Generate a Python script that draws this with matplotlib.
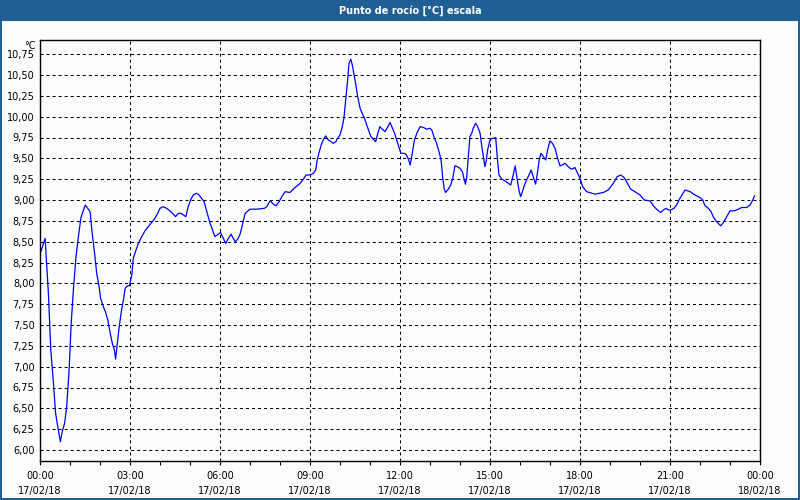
import matplotlib
matplotlib.use('Agg')
import matplotlib.pyplot as plt
from matplotlib.patches import Rectangle
from matplotlib.ticker import MultipleLocator, FixedLocator

# hours since 17/02/18 00:00 and dew point (°C)
hours = [0.03, 0.17, 0.22, 0.28, 0.36, 0.44, 0.52, 0.60, 0.68, 0.74, 0.82, 0.89, 0.97,
         1.04, 1.12, 1.20, 1.28, 1.36, 1.43, 1.51, 1.59, 1.67, 1.74, 1.82, 1.89, 1.97,
         2.02, 2.11, 2.18, 2.26, 2.33, 2.41, 2.48, 2.52, 2.58, 2.64, 2.71, 2.78, 2.84,
         2.91, 2.98, 3.06, 3.11, 3.20, 3.28, 3.39, 3.50, 3.61, 3.72, 3.83, 3.92, 4.00,
         4.11, 4.22, 4.33, 4.42, 4.52, 4.61, 4.70, 4.78, 4.86, 4.94, 5.03, 5.11, 5.20,
         5.28, 5.47, 5.56, 5.67, 5.83, 5.94, 6.02, 6.11, 6.19, 6.28, 6.37, 6.44, 6.51,
         6.59, 6.67, 6.76, 6.84, 7.00, 7.22, 7.48, 7.56, 7.67, 7.78, 7.87, 7.97, 8.06,
         8.17, 8.33, 8.50, 8.67, 8.76, 8.87, 9.00, 9.11, 9.19, 9.24, 9.31, 9.39, 9.47,
         9.52, 9.61, 9.70, 9.78, 9.86, 9.92, 10.00, 10.07, 10.13, 10.20, 10.26, 10.30,
         10.36, 10.41, 10.47, 10.52, 10.59, 10.67, 10.74, 10.82, 10.89, 10.97, 11.03,
         11.11, 11.19, 11.26, 11.33, 11.41, 11.50, 11.58, 11.67, 11.74, 11.82, 11.89,
         11.97, 12.03, 12.13, 12.20, 12.28, 12.34, 12.41, 12.48, 12.56, 12.67, 12.78,
         12.89, 13.00, 13.06, 13.13, 13.22, 13.30, 13.37, 13.42, 13.47, 13.52, 13.61,
         13.69, 13.76, 13.83, 13.91, 14.00, 14.08, 14.13, 14.18, 14.22, 14.28, 14.33,
         14.39, 14.44, 14.52, 14.59, 14.67, 14.72, 14.78, 14.83, 14.87, 14.92, 15.00,
         15.08, 15.13, 15.19, 15.24, 15.30, 15.39, 15.50, 15.61, 15.69, 15.76, 15.84,
         15.91, 15.97, 16.02, 16.08, 16.14, 16.22, 16.30, 16.37, 16.44, 16.52, 16.58,
         16.64, 16.70, 16.78, 16.86, 16.92, 17.00, 17.08, 17.17, 17.24, 17.33, 17.41,
         17.50, 17.58, 17.67, 17.74, 17.83, 17.91, 18.00, 18.09, 18.22, 18.50, 18.78,
         18.94, 19.11, 19.24, 19.36, 19.47, 19.58, 19.69, 19.83, 20.00, 20.14, 20.33,
         20.47, 20.58, 20.69, 20.78, 20.87, 20.94, 21.02, 21.13, 21.22, 21.33, 21.50,
         21.67, 21.83, 22.00, 22.09, 22.17, 22.28, 22.37, 22.44, 22.53, 22.61, 22.69,
         22.78, 22.89, 23.00, 23.14, 23.28, 23.39, 23.56, 23.67, 23.76, 23.82]
dew = [8.38, 8.54, 8.24, 7.88, 7.20, 6.84, 6.44, 6.26, 6.10, 6.22, 6.32, 6.52, 6.96,
       7.52, 7.96, 8.32, 8.56, 8.78, 8.86, 8.94, 8.90, 8.86, 8.60, 8.36, 8.12, 7.96,
       7.82, 7.72, 7.66, 7.56, 7.42, 7.28, 7.20, 7.09, 7.28, 7.48, 7.66, 7.80, 7.94,
       7.97, 7.97, 8.10, 8.30, 8.40, 8.48, 8.56, 8.63, 8.68, 8.73, 8.78, 8.84, 8.90,
       8.92, 8.90, 8.87, 8.84, 8.80, 8.84, 8.84, 8.82, 8.80, 8.92, 9.01, 9.06, 9.08,
       9.07, 8.98, 8.86, 8.72, 8.56, 8.59, 8.61, 8.54, 8.48, 8.54, 8.59, 8.54, 8.50,
       8.53, 8.59, 8.72, 8.84, 8.89, 8.89, 8.90, 8.92, 8.99, 8.95, 8.93, 8.98, 9.04,
       9.10, 9.09, 9.15, 9.20, 9.24, 9.30, 9.30, 9.32, 9.36, 9.48, 9.58, 9.68, 9.74,
       9.77, 9.72, 9.70, 9.68, 9.70, 9.74, 9.78, 9.87, 9.98, 10.24, 10.46, 10.64,
       10.69, 10.62, 10.50, 10.40, 10.24, 10.10, 10.04, 9.98, 9.90, 9.82, 9.76,
       9.73, 9.70, 9.80, 9.88, 9.85, 9.82, 9.87, 9.93, 9.87, 9.80, 9.72,
       9.63, 9.56, 9.56, 9.55, 9.49, 9.42, 9.56, 9.72, 9.80, 9.88, 9.87,
       9.85, 9.86, 9.84, 9.76, 9.68, 9.58, 9.48, 9.28, 9.14, 9.09, 9.13,
       9.18, 9.26, 9.41, 9.40, 9.38, 9.34, 9.26, 9.19, 9.26, 9.54, 9.76,
       9.80, 9.86, 9.92, 9.88, 9.80, 9.66, 9.52, 9.40, 9.46, 9.60, 9.72,
       9.74, 9.74, 9.75, 9.52, 9.30, 9.25, 9.23, 9.20, 9.18, 9.28, 9.41,
       9.24, 9.11, 9.04, 9.10, 9.17, 9.24, 9.30, 9.36, 9.28, 9.19, 9.32,
       9.48, 9.56, 9.52, 9.48, 9.60, 9.71, 9.68, 9.62, 9.52, 9.41, 9.42,
       9.44, 9.41, 9.38, 9.37, 9.39, 9.33, 9.26, 9.16, 9.10, 9.07, 9.09,
       9.12, 9.20, 9.28, 9.30, 9.27, 9.20, 9.13, 9.10, 9.06, 9.00, 8.99,
       8.92, 8.88, 8.85, 8.88, 8.90, 8.88, 8.88, 8.90, 8.94, 9.02, 9.12,
       9.10, 9.06, 9.03, 9.00, 8.93, 8.90, 8.86, 8.80, 8.75, 8.72, 8.69,
       8.73, 8.80, 8.87, 8.87, 8.89, 8.91, 8.91, 8.94, 9.00, 9.05]

tick_hours = [0, 3, 6, 9, 12, 15, 18, 21, 24]
tick_labels = ['00:00\n17/02/18', '03:00\n17/02/18', '06:00\n17/02/18',
               '09:00\n17/02/18', '12:00\n17/02/18', '15:00\n17/02/18',
               '18:00\n17/02/18', '21:00\n17/02/18', '00:00\n18/02/18']
y_ticks = [6.00, 6.25, 6.50, 6.75, 7.00, 7.25, 7.50, 7.75, 8.00, 8.25, 8.50,
           8.75, 9.00, 9.25, 9.50, 9.75, 10.00, 10.25, 10.50, 10.75]

title = 'Punto de rocío [°C] escala'
BLUE = '#1f5f96'
BG = '#fbfdfc'

plt.rcParams['font.family'] = ['DejaVu Sans']
fig = plt.figure(figsize=(8, 5), dpi=100, facecolor=BG)

# title bar and frame
fig.patches.append(Rectangle((0, 1 - 21 / 500), 1, 21 / 500, transform=fig.transFigure,
                             facecolor=BLUE, edgecolor='none', zorder=0))
for r in [(0, 0, 2 / 800, 1), (1 - 2 / 800, 0, 2 / 800, 1), (0, 0, 1, 2 / 500)]:
    fig.patches.append(Rectangle(r[:2], r[2], r[3], transform=fig.transFigure,
                                 facecolor=BLUE, edgecolor='none', zorder=0))
fig.text(410 / 800, 1 - 10.5 / 500, title, color='white', fontsize=7, fontweight='bold',
         ha='center', va='center')

ax = fig.add_axes([40 / 800, 1 - 461 / 500, 720 / 800, 421 / 500], facecolor=BG)
ax.plot(hours, dew, color='#0000ff', lw=0.9)

ax.set_xlim(0, 24)
ax.set_ylim(5.868, 10.92)
ax.xaxis.set_major_locator(FixedLocator(tick_hours))
ax.set_xticklabels(tick_labels, fontsize=7)
ax.xaxis.set_minor_locator(MultipleLocator(1))
for lab in ax.get_xticklabels():
    lab.set_linespacing(1.65)
ax.set_yticks(y_ticks)
ax.set_yticklabels([f'{v:.2f}'.replace('.', ',') for v in y_ticks], fontsize=7)

ax.tick_params(axis='x', which='both', direction='out', length=3, width=0.8, pad=4)
ax.tick_params(axis='y', which='both', length=0, pad=4)
ax.grid(True, which='major', color='black', lw=0.75, linestyle=(0, (2.9, 2.9)))
for s in ax.spines.values():
    s.set_linewidth(1.0)

ax.annotate('°C', xy=(0, 1), xycoords='axes fraction', xytext=(-4, -1),
            textcoords='offset pixels', ha='right', va='top', fontsize=7)

fig.savefig('out.png', dpi=100, facecolor=BG)
